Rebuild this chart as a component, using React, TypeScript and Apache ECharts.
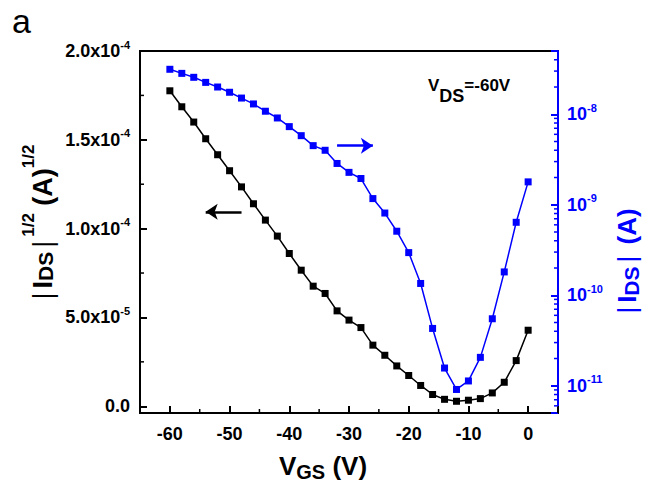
import React, { useEffect, useRef } from 'react';
import * as echarts from 'echarts';

const FONT = '"Liberation Sans", Arial, Helvetica, sans-serif';
const BLACK = '#000000';
const BLUE = '#0000ff';

// Gate voltage (V)
const vgs = [
  -60, -58, -56, -54, -52, -50, -48, -46, -44, -42,
  -40, -38, -36, -34, -32, -30, -28, -26, -24, -22,
  -20, -18, -16, -14, -12, -10, -8, -6, -4, -2, 0,
];

// |I_DS|^1/2 (A)^1/2  (left axis)
const sqrtIds = [
  1.776e-4, 1.686e-4, 1.6e-4, 1.506e-4, 1.416e-4, 1.326e-4, 1.235e-4, 1.14e-4, 1.048e-4, 0.958e-4,
  0.86e-4, 0.766e-4, 0.676e-4, 0.635e-4, 0.537e-4, 0.485e-4, 0.443e-4, 0.344e-4, 0.287e-4, 0.227e-4,
  0.173e-4, 0.117e-4, 0.066e-4, 0.039e-4, 0.028e-4, 0.034e-4, 0.043e-4, 0.075e-4, 0.135e-4, 0.257e-4, 0.428e-4,
];

// |I_DS| (A)  (right, log axis)
const ids = [
  3.14e-8, 2.83e-8, 2.56e-8, 2.25e-8, 2.0e-8, 1.75e-8, 1.51e-8, 1.3e-8, 1.08e-8, 9.1e-9,
  7.3e-9, 5.8e-9, 4.5e-9, 4.0e-9, 2.86e-9, 2.28e-9, 1.95e-9, 1.17e-9, 8.1e-10, 5.1e-10,
  2.96e-10, 1.35e-10, 4.3e-11, 1.57e-11, 9.1e-12, 1.13e-11, 2.06e-11, 5.5e-11, 1.81e-10, 6.4e-10, 1.79e-9,
];

// axis ranges
const xRange = [-65, 5];
const leftRange = [-3.8e-6, 2.0e-4];
const rightRange = [5e-12, 5e-8];

// minor tick positions
const xMinorTicks = [-55, -45, -35, -25, -15, -5];
const leftMinorTicks = [2.5e-5, 7.5e-5, 1.25e-4, 1.75e-4];
const rightMinorTicks = [
  6e-12, 7e-12, 8e-12, 9e-12,
  2e-11, 3e-11, 4e-11, 5e-11, 6e-11, 7e-11, 8e-11, 9e-11,
  2e-10, 3e-10, 4e-10, 5e-10, 6e-10, 7e-10, 8e-10, 9e-10,
  2e-9, 3e-9, 4e-9, 5e-9, 6e-9, 7e-9, 8e-9, 9e-9,
  2e-8, 3e-8, 4e-8,
];

// annotation arrows (data coordinates)
const blackArrow = [[-48, 1.095e-4], [-54, 1.095e-4]];
const blueArrow = [[-32, 4.5e-9], [-26, 4.5e-9]];

function leftLabel(v: number): string {
  if (v < 0) return '';
  if (Math.abs(v) < 1e-12) return '{m|0.0}';
  const e = Math.floor(Math.log10(v) + 1e-9);
  const m = (v / Math.pow(10, e)).toFixed(1);
  return `{m|${m}x10}{s|${e}}`;
}

function rightLabel(v: number): string {
  const l = Math.log10(v);
  const r = Math.round(l);
  if (Math.abs(l - r) > 1e-6) return '';
  return `{m|10}{s|${r}}`;
}

function tickSeries(
  data: number[][],
  yAxisIndex: number,
  kind: 'x' | 'left' | 'right',
  color: string,
) {
  return {
    type: 'custom',
    xAxisIndex: 0,
    yAxisIndex,
    silent: true,
    clip: false,
    z: 10,
    data,
    renderItem: (params: any, api: any) => {
      const cs = params.coordSys;
      const p = api.coord([api.value(0), api.value(1)]);
      let shape;
      if (kind === 'x') {
        const y = cs.y + cs.height;
        shape = { x1: p[0], y1: y, x2: p[0], y2: y - 4 };
      } else if (kind === 'left') {
        const x = cs.x;
        shape = { x1: x, y1: p[1], x2: x + 4, y2: p[1] };
      } else {
        const x = cs.x + cs.width;
        shape = { x1: x, y1: p[1], x2: x - 4, y2: p[1] };
      }
      return { type: 'line', shape, style: { stroke: color, lineWidth: 1.5 } };
    },
  };
}

// rich token helper: top-aligned token whose text centre sits at padTop + size/2 from line top
function tok(size: number, padTop: number, bold: boolean, lineHeight: number, padH = 0) {
  return {
    fontSize: size,
    fontWeight: bold ? 'bold' : 'normal',
    fontFamily: FONT,
    verticalAlign: 'top',
    height: size,
    lineHeight,
    padding: [padTop, padH, 0, padH],
  };
}

export default function App() {
  const ref = useRef<HTMLDivElement>(null);

  useEffect(() => {
    if (!ref.current) return;
    const chart = echarts.init(ref.current, null, { renderer: 'svg' });

    const labelRich = (color: string) => ({
      m: { fontSize: 18, fontWeight: 'bold', fontFamily: FONT, color, lineHeight: 24 },
      s: { fontSize: 11, fontWeight: 'bold', fontFamily: FONT, color, verticalAlign: 'top', height: 11, lineHeight: 24 },
    });

    const option: any = {
      animation: false,
      backgroundColor: '#ffffff',
      grid: {
        left: 140,
        right: 89,
        top: 51,
        bottom: 69,
        containLabel: false,
        outerBoundsMode: 'none',
        show: true,
        borderColor: BLACK,
        borderWidth: 2,
        backgroundColor: 'transparent',
      },
      xAxis: {
        type: 'value',
        min: xRange[0],
        max: xRange[1],
        splitNumber: 7,
        axisLine: { show: true, onZero: false, lineStyle: { color: BLACK, width: 2 } },
        axisTick: { show: true, inside: true, length: 7, lineStyle: { color: BLACK, width: 2 } },
        axisLabel: {
          show: true,
          margin: 12,
          color: BLACK,
          fontSize: 18,
          fontWeight: 'bold',
          fontFamily: FONT,
          formatter: (v: number) => (Math.abs(v % 10) < 1e-9 ? String(v) : ''),
        },
        splitLine: { show: false },
      },
      yAxis: [
        {
          type: 'value',
          position: 'left',
          min: leftRange[0],
          max: leftRange[1],
          splitNumber: 4,
          axisLine: { show: true, onZero: false, lineStyle: { color: BLACK, width: 2 } },
          axisTick: { show: true, inside: true, length: 7, lineStyle: { color: BLACK, width: 2 } },
          axisLabel: {
            show: true,
            margin: 10,
            color: BLACK,
            fontSize: 18,
            fontWeight: 'bold',
            fontFamily: FONT,
            formatter: leftLabel,
            rich: labelRich(BLACK),
          },
          splitLine: { show: false },
        },
        {
          type: 'log',
          logBase: 10,
          position: 'right',
          min: rightRange[0],
          max: rightRange[1],
          axisLine: { show: true, onZero: false, lineStyle: { color: BLUE, width: 2 } },
          axisTick: { show: true, inside: true, length: 7, lineStyle: { color: BLUE, width: 2 } },
          axisLabel: {
            show: true,
            margin: 9,
            color: BLUE,
            fontSize: 18,
            fontWeight: 'bold',
            fontFamily: FONT,
            formatter: rightLabel,
            rich: labelRich(BLUE),
          },
          splitLine: { show: false },
        },
      ],
      series: [
        {
          type: 'line',
          name: 'sqrt',
          xAxisIndex: 0,
          yAxisIndex: 0,
          data: vgs.map((x, i) => [x, sqrtIds[i]]),
          symbol: 'rect',
          symbolSize: 7,
          showAllSymbol: true,
          itemStyle: { color: BLACK },
          lineStyle: { color: BLACK, width: 1.5 },
          z: 3,
          markLine: {
            silent: true,
            symbol: ['none', 'arrow'],
            symbolSize: 12,
            label: { show: false },
            lineStyle: { color: BLACK, width: 2.5, type: 'solid' },
            data: [[{ coord: blackArrow[0] }, { coord: blackArrow[1] }]],
          },
        },
        {
          type: 'line',
          name: 'ids',
          xAxisIndex: 0,
          yAxisIndex: 1,
          data: vgs.map((x, i) => [x, ids[i]]),
          symbol: 'rect',
          symbolSize: 7,
          showAllSymbol: true,
          itemStyle: { color: BLUE },
          lineStyle: { color: BLUE, width: 1.5 },
          z: 4,
          markLine: {
            silent: true,
            symbol: ['none', 'arrow'],
            symbolSize: 12,
            label: { show: false },
            lineStyle: { color: BLUE, width: 2.5, type: 'solid' },
            data: [[{ coord: blueArrow[0] }, { coord: blueArrow[1] }]],
          },
        },
        tickSeries(xMinorTicks.map((v) => [v, 0]), 0, 'x', BLACK),
        tickSeries(leftMinorTicks.map((v) => [-60, v]), 0, 'left', BLACK),
        tickSeries(rightMinorTicks.map((v) => [0, v]), 1, 'right', BLUE),
      ],
      graphic: [
        {
          type: 'text',
          x: 12,
          y: 21,
          style: {
            text: 'a',
            fill: BLACK,
            fontSize: 34,
            fontFamily: FONT,
            align: 'left',
            verticalAlign: 'middle',
          },
        },
        {
          // left axis title, rotated
          type: 'text',
          x: 40,
          y: 224,
          rotation: Math.PI / 2,
          style: {
            text: '{bar|\u007c}{b|I}{sub|DS}{bar|\u007c}{sup|1/2}{b| (A)}{sup|1/2}',
            fill: BLACK,
            align: 'center',
            verticalAlign: 'middle',
            rich: {
              b: tok(27, 9, true, 40),
              bar: tok(27, 9, false, 40, 4),
              sub: tok(21, 15, true, 40),
              sup: tok(17, 0, true, 40),
            },
          },
        },
        {
          // right axis title, rotated
          type: 'text',
          x: 627,
          y: 263,
          rotation: Math.PI / 2,
          style: {
            text: '{bar|\u007c}{b|I}{sub|DS}{bar|\u007c}{b| (A)}',
            fill: BLUE,
            align: 'center',
            verticalAlign: 'middle',
            rich: {
              b: tok(26, 7, true, 40),
              bar: tok(26, 7, false, 40, 4),
              sub: tok(21, 14, true, 40),
            },
          },
        },
        {
          // x axis title
          type: 'text',
          x: 323,
          y: 466,
          style: {
            text: '{b|V}{sub|GS}{b| (V)}',
            fill: BLACK,
            align: 'center',
            verticalAlign: 'middle',
            rich: {
              b: tok(26, 5, true, 36),
              sub: tok(20, 14, true, 36),
            },
          },
        },
        {
          type: 'text',
          x: 428,
          y: 77,
          style: {
            text: '{v|V}{sub|DS}{t|=-60V}',
            fill: BLACK,
            align: 'left',
            verticalAlign: 'top',
            rich: {
              v: tok(17, 0, true, 30),
              sub: tok(18, 10, true, 30),
              t: tok(17, 0, true, 30),
            },
          },
        },
      ],
    };

    chart.setOption(option);
    return () => chart.dispose();
  }, []);

  return (
    <div
      ref={ref}
      style={{ position: 'fixed', left: 0, top: 0, width: 647, height: 482, background: '#fff' }}
    />
  );
}
